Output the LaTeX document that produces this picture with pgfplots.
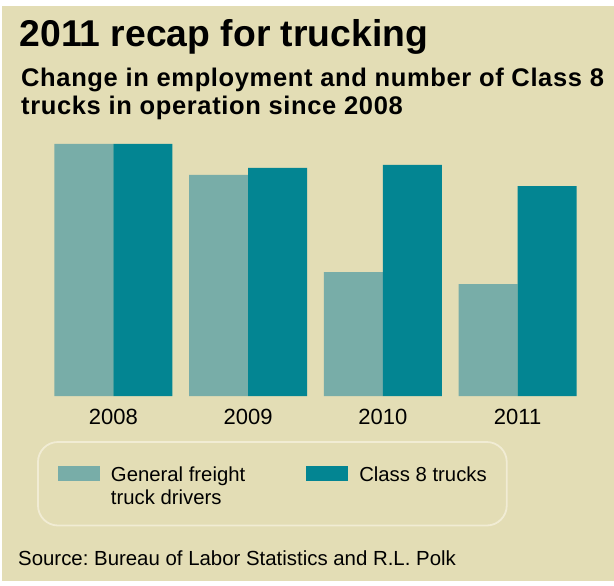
\documentclass[border=0pt]{standalone}
\usepackage{fontspec}
\setmainfont{Liberation Sans}
\usepackage{pgfplots}
\pgfplotsset{compat=1.18}
\frenchspacing

\definecolor{bgbeige}{HTML}{E3DDB5}
\definecolor{lightteal}{HTML}{78ADA8}
\definecolor{darkteal}{HTML}{038592}
\definecolor{boxline}{HTML}{F1ECD4}

\begin{document}
\begin{tikzpicture}[x=1pt,y=1pt]
% page and panel
\fill[white] (0,0) rectangle (614,-586);
\fill[bgbeige] (2,-6) rectangle (614,-581);

% titles
\node[anchor=base west, inner sep=0pt, font=\bfseries\fontsize{37.3}{44}\selectfont]
  at (19.5,-46.7) {2011 recap for trucking};
\node[anchor=base west, inner sep=0pt, font=\bfseries\fontsize{25.5}{28}\selectfont\addfontfeatures{LetterSpace=2.5}]
  at (21,-87) {Change in employment and number of Class 8};
\node[anchor=base west, inner sep=0pt, font=\bfseries\fontsize{25.5}{28}\selectfont\addfontfeatures{LetterSpace=2.5}]
  at (21,-115) {trucks in operation since 2008};

\begin{axis}[
  at={(46pt,-396pt)}, anchor=south west,
  scale only axis, width=539pt, height=260pt,
  xmin=-0.5, xmax=3.5, ymin=0, ymax=103.17,
  ybar=0pt, bar width=59pt,
  axis line style={draw=none}, major tick length=0pt,
  ytick=\empty, xtick={0,1,2,3},
  xticklabels={2008,2009,2010,2011},
  xticklabel style={anchor=base, inner sep=0pt, yshift=-28pt,
    font=\fontsize{22}{26}\selectfont},
  clip=false,
  legend columns=2,
  legend image code/.code={%
    \fill[#1, sharp corners] (0pt,0.5pt) rectangle (42pt,15.5pt);
    \path (0pt,17.5pt) (53pt,-22pt);},
  legend style={at={(-0.01484,-0.17692)}, anchor=north west,
    draw=boxline, line width=1.8pt, fill=none, outer sep=0pt,
    rounded corners=20pt, inner xsep=20pt, inner ysep=22pt,
    font=\fontsize{20.3}{23}\selectfont,
    column sep=0pt,
    /tikz/every even column/.append style={column sep=61pt},
    nodes={inner sep=0pt, anchor=base west}},
]
\addplot[fill=lightteal, draw=none] coordinates {(0,100) (1,87.7) (2,49.2) (3,44.4)};
\addplot[fill=darkteal, draw=none] coordinates {(0,100) (1,90.5) (2,91.7) (3,83.3)};
\addlegendentry{\vtop{\hbox{General freight}\hbox{truck drivers}}}
\addlegendentry{Class 8 trucks}
\end{axis}

% source line
\node[anchor=base west, inner sep=0pt, font=\fontsize{20.4}{24}\selectfont]
  at (18,-565) {Source: Bureau of Labor Statistics and R.L. Polk};
\end{tikzpicture}
\end{document}
